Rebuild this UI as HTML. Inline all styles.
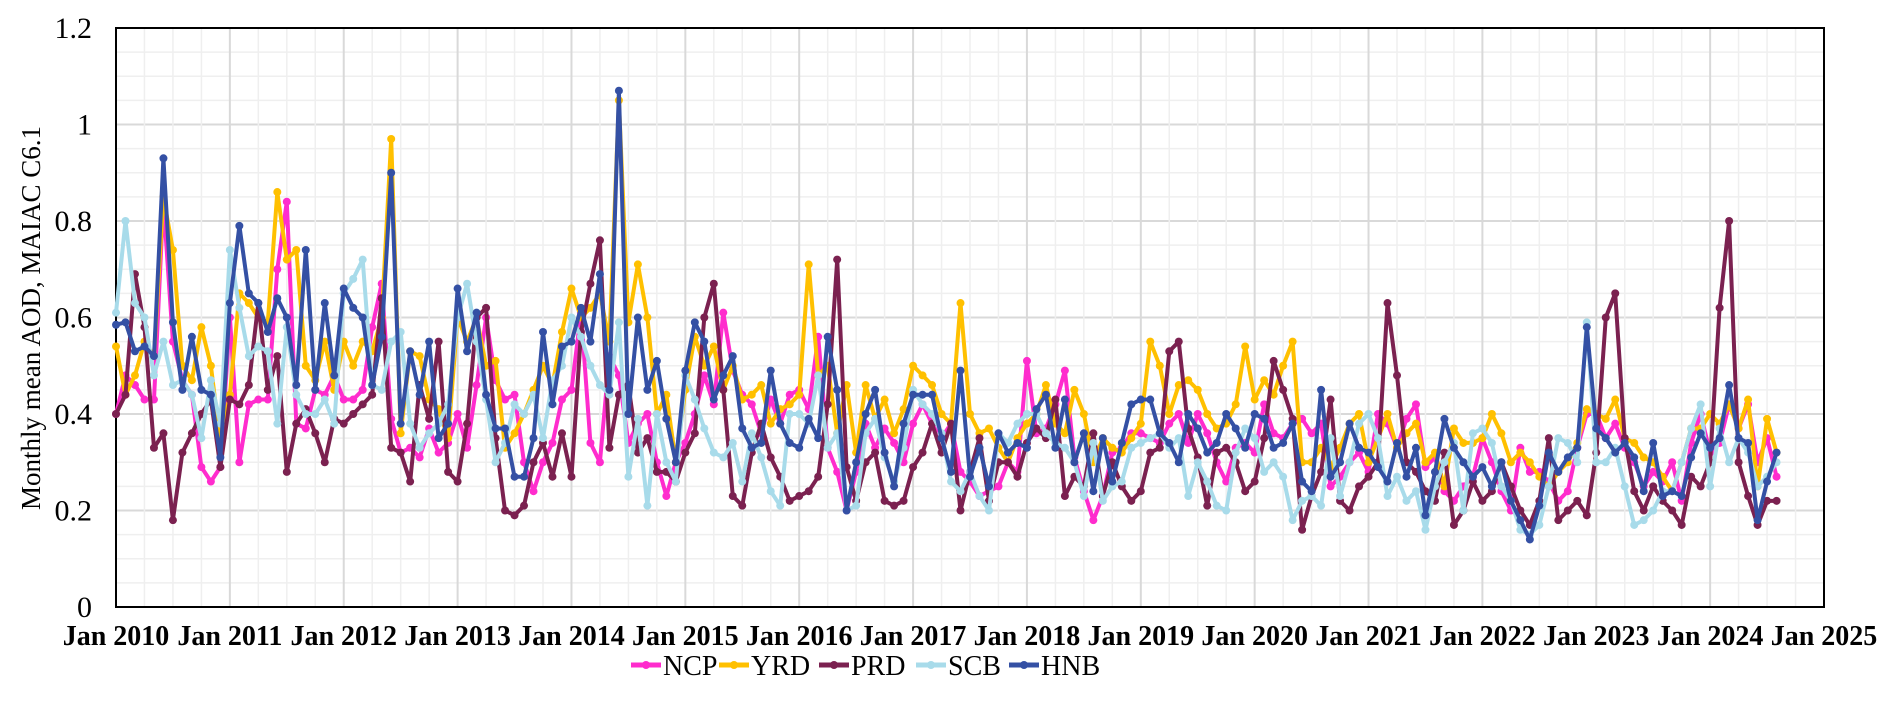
<!DOCTYPE html>
<html><head><meta charset="utf-8"><style>
html,body{margin:0;padding:0;background:#fff;}
svg{display:block;font-family:"Liberation Serif",serif;}
</style></head><body>
<svg id="chart" width="1892" height="704" viewBox="0 0 1892 704" xmlns="http://www.w3.org/2000/svg">
<g id="grid"></g>
<g id="axes"></g>
<g id="series"></g>
<text transform="translate(40,318) rotate(-90)" text-anchor="middle" font-size="27">Monthly mean AOD, MAIAC C6.1</text>
<g id="legend"></g>
</svg>
<script>
const yTicks=[0,0.2,0.4,0.6,0.8,1,1.2];
const yTickLabels=["0","0.2","0.4","0.6","0.8","1","1.2"];
const xTickLabels=["Jan 2010","Jan 2011","Jan 2012","Jan 2013","Jan 2014","Jan 2015","Jan 2016","Jan 2017","Jan 2018","Jan 2019","Jan 2020","Jan 2021","Jan 2022","Jan 2023","Jan 2024","Jan 2025"];
const seriesNames=["NCP","YRD","PRD","SCB","HNB"];
const seriesColors=["#ff2ccd","#ffc000","#7b2150","#a8dbea","#3450a4"];
const NCP=[.40,.48,.46,.43,.43,.84,.55,.47,.44,.29,.26,.29,.60,.30,.42,.43,.43,.70,.84,.38,.37,.45,.44,.48,.43,.43,.45,.58,.67,.39,.32,.33,.31,.37,.32,.34,.40,.33,.46,.60,.47,.43,.44,.30,.24,.30,.34,.43,.45,.61,.34,.30,.52,.48,.34,.38,.40,.30,.23,.30,.34,.40,.48,.42,.61,.49,.44,.42,.36,.43,.38,.44,.45,.41,.56,.33,.28,.20,.28,.38,.33,.37,.34,.30,.38,.42,.38,.35,.38,.28,.26,.23,.24,.25,.30,.28,.51,.36,.37,.42,.49,.31,.24,.18,.23,.32,.33,.36,.36,.35,.34,.38,.40,.34,.40,.36,.30,.26,.33,.34,.32,.42,.36,.35,.38,.39,.36,.38,.25,.27,.30,.32,.28,.40,.38,.33,.39,.42,.29,.31,.24,.22,.25,.27,.35,.30,.24,.20,.33,.28,.28,.26,.22,.24,.33,.40,.40,.35,.38,.33,.30,.25,.28,.26,.30,.22,.34,.40,.32,.34,.42,.37,.42,.30,.35,.27];
const YRD=[.54,.44,.48,.55,.52,.85,.74,.50,.47,.58,.50,.34,.44,.65,.63,.60,.59,.86,.72,.74,.50,.47,.55,.45,.55,.50,.55,.53,.60,.97,.36,.53,.52,.43,.41,.35,.60,.55,.60,.50,.51,.33,.36,.40,.45,.50,.46,.57,.66,.60,.62,.65,.55,1.05,.59,.71,.60,.40,.44,.30,.45,.56,.50,.54,.45,.50,.43,.44,.46,.38,.41,.42,.44,.71,.48,.50,.36,.46,.32,.46,.39,.43,.36,.41,.50,.48,.46,.40,.38,.63,.40,.36,.37,.33,.30,.35,.38,.40,.46,.38,.36,.45,.40,.30,.35,.33,.32,.35,.38,.55,.50,.40,.46,.47,.45,.40,.37,.38,.42,.54,.43,.47,.44,.50,.55,.30,.30,.33,.29,.33,.38,.40,.30,.35,.40,.33,.36,.38,.30,.32,.25,.37,.34,.34,.35,.40,.36,.30,.32,.30,.27,.25,.28,.30,.34,.41,.40,.39,.43,.35,.34,.31,.30,.27,.24,.30,.37,.37,.40,.38,.42,.37,.43,.25,.39,.32];
const PRD=[.40,.44,.69,.58,.33,.36,.18,.32,.36,.40,.43,.29,.43,.42,.46,.63,.45,.52,.28,.38,.41,.36,.30,.39,.38,.40,.42,.44,.64,.33,.32,.26,.46,.39,.55,.28,.26,.38,.60,.62,.35,.20,.19,.21,.30,.34,.27,.36,.27,.57,.67,.76,.33,.44,.46,.32,.35,.28,.28,.26,.32,.36,.60,.67,.45,.23,.21,.32,.38,.31,.27,.22,.23,.24,.27,.42,.72,.29,.22,.30,.32,.22,.21,.22,.29,.32,.38,.32,.38,.20,.28,.35,.22,.30,.30,.27,.34,.37,.35,.43,.23,.27,.25,.36,.23,.30,.25,.22,.24,.32,.33,.53,.55,.37,.31,.21,.32,.33,.30,.24,.26,.35,.51,.45,.39,.16,.23,.28,.43,.22,.20,.25,.27,.30,.63,.48,.30,.28,.24,.22,.32,.17,.20,.26,.22,.24,.30,.25,.20,.17,.22,.35,.18,.20,.22,.19,.32,.60,.65,.35,.24,.20,.25,.22,.20,.17,.27,.25,.30,.62,.80,.30,.23,.17,.22,.22];
const SCB=[.61,.80,.63,.60,.48,.55,.46,.47,.44,.35,.47,.38,.74,.62,.52,.54,.53,.38,.58,.44,.40,.40,.43,.38,.65,.68,.72,.46,.45,.55,.57,.38,.33,.36,.38,.42,.60,.67,.55,.43,.30,.34,.42,.40,.44,.35,.47,.50,.60,.56,.50,.46,.44,.59,.27,.39,.21,.40,.30,.26,.48,.43,.37,.32,.31,.34,.26,.36,.31,.24,.21,.40,.40,.38,.48,.33,.36,.20,.21,.36,.39,.31,.26,.33,.45,.42,.40,.36,.26,.24,.28,.23,.20,.36,.34,.38,.40,.40,.36,.34,.33,.30,.23,.34,.22,.25,.26,.33,.34,.35,.36,.33,.35,.23,.30,.26,.21,.20,.32,.37,.35,.28,.30,.27,.18,.22,.23,.21,.35,.23,.30,.38,.40,.35,.23,.27,.22,.24,.16,.25,.30,.34,.20,.36,.37,.34,.25,.22,.16,.15,.17,.25,.35,.34,.30,.59,.30,.30,.33,.25,.17,.18,.20,.24,.24,.30,.37,.42,.25,.37,.30,.35,.32,.25,.27,.30];
const HNB=[.585,.59,.53,.54,.52,.93,.59,.45,.56,.45,.44,.31,.63,.79,.65,.63,.57,.64,.60,.46,.74,.45,.63,.48,.66,.62,.60,.46,.56,.90,.38,.53,.44,.55,.35,.38,.66,.53,.61,.44,.37,.37,.27,.27,.35,.57,.42,.54,.55,.62,.55,.69,.45,1.07,.40,.60,.45,.51,.39,.30,.49,.59,.55,.43,.48,.52,.37,.33,.34,.49,.38,.34,.33,.39,.35,.56,.45,.20,.30,.40,.45,.32,.25,.38,.44,.44,.44,.35,.28,.49,.27,.33,.25,.36,.32,.34,.33,.41,.44,.33,.43,.30,.36,.24,.35,.26,.34,.42,.43,.43,.36,.34,.30,.40,.37,.32,.34,.40,.37,.33,.40,.39,.33,.34,.38,.26,.24,.45,.27,.30,.38,.33,.32,.29,.26,.34,.27,.33,.19,.28,.39,.33,.30,.27,.29,.25,.30,.22,.18,.14,.21,.32,.28,.31,.33,.58,.37,.35,.32,.34,.31,.24,.34,.23,.24,.23,.31,.36,.33,.35,.46,.35,.34,.18,.26,.32];
const allSeries=[NCP,YRD,PRD,SCB,HNB];

const L=116,R=1824,T=28,B=607;
const NS="http://www.w3.org/2000/svg";
function xMonth(m){return L+(R-L)*m/180;}
function yVal(v){return B-(B-T)*v/1.2;}
function mk(tag,attrs,parent){const e=document.createElementNS(NS,tag);for(const k in attrs)e.setAttribute(k,attrs[k]);parent.appendChild(e);return e;}
const grid=document.getElementById('grid'),axes=document.getElementById('axes'),ser=document.getElementById('series'),leg=document.getElementById('legend');
for(let i=0;i<=24;i++){const v=i*0.05;const y=yVal(v);
 const ln=mk('line',{x1:L,x2:R,y1:y,y2:y,stroke:i%4==0?'#d9d9d9':'#efefef','stroke-width':i%4==0?2:1.5},grid);
 
 }
for(let m=0;m<=180;m+=3){const x=xMonth(m);
 const ln=mk('line',{x1:x,x2:x,y1:T,y2:B,stroke:m%12==0?'#d9d9d9':'#efefef','stroke-width':m%12==0?2:1.5},grid);
 
 }
const frame=mk('rect',{x:L,y:T,width:R-L,height:B-T,fill:'none',stroke:'#000','stroke-width':2},axes);


yTicks.forEach((v,i)=>{const t=mk('text',{x:L-24,y:yVal(v)+10,'text-anchor':'end','font-size':30},axes);t.textContent=yTickLabels[i];
 
 });
xTickLabels.forEach((s,i)=>{const t=mk('text',{x:xMonth(i*12),y:645,'text-anchor':'middle','font-size':28,'font-weight':'bold'},axes);t.textContent=s;
 
 });
allSeries.forEach((d,si)=>{const g=mk('g',{},ser);
 
 
 const pts=d.map((v,i)=>xMonth(i).toFixed(1)+','+yVal(v).toFixed(1)).join(' ');
 const pl=mk('polyline',{points:pts,fill:'none',stroke:seriesColors[si],'stroke-width':4,'stroke-linejoin':'round'},g);
 
 
 d.forEach((v,i)=>{const c=mk('circle',{cx:xMonth(i),cy:yVal(v),r:4,fill:seriesColors[si]},g);
  
  });});
const legX=[631,719,819,916,1009];
seriesNames.forEach((n,i)=>{const g=mk('g',{},leg);
 
 
 mk('line',{x1:legX[i],x2:legX[i]+30,y1:665,y2:665,stroke:seriesColors[i],'stroke-width':5},g);
 mk('circle',{cx:legX[i]+15,cy:665,r:4,fill:seriesColors[i]},g);
 const t=mk('text',{x:legX[i]+32,y:675,'font-size':28},g);t.textContent=n;});
</script>
</body></html>
